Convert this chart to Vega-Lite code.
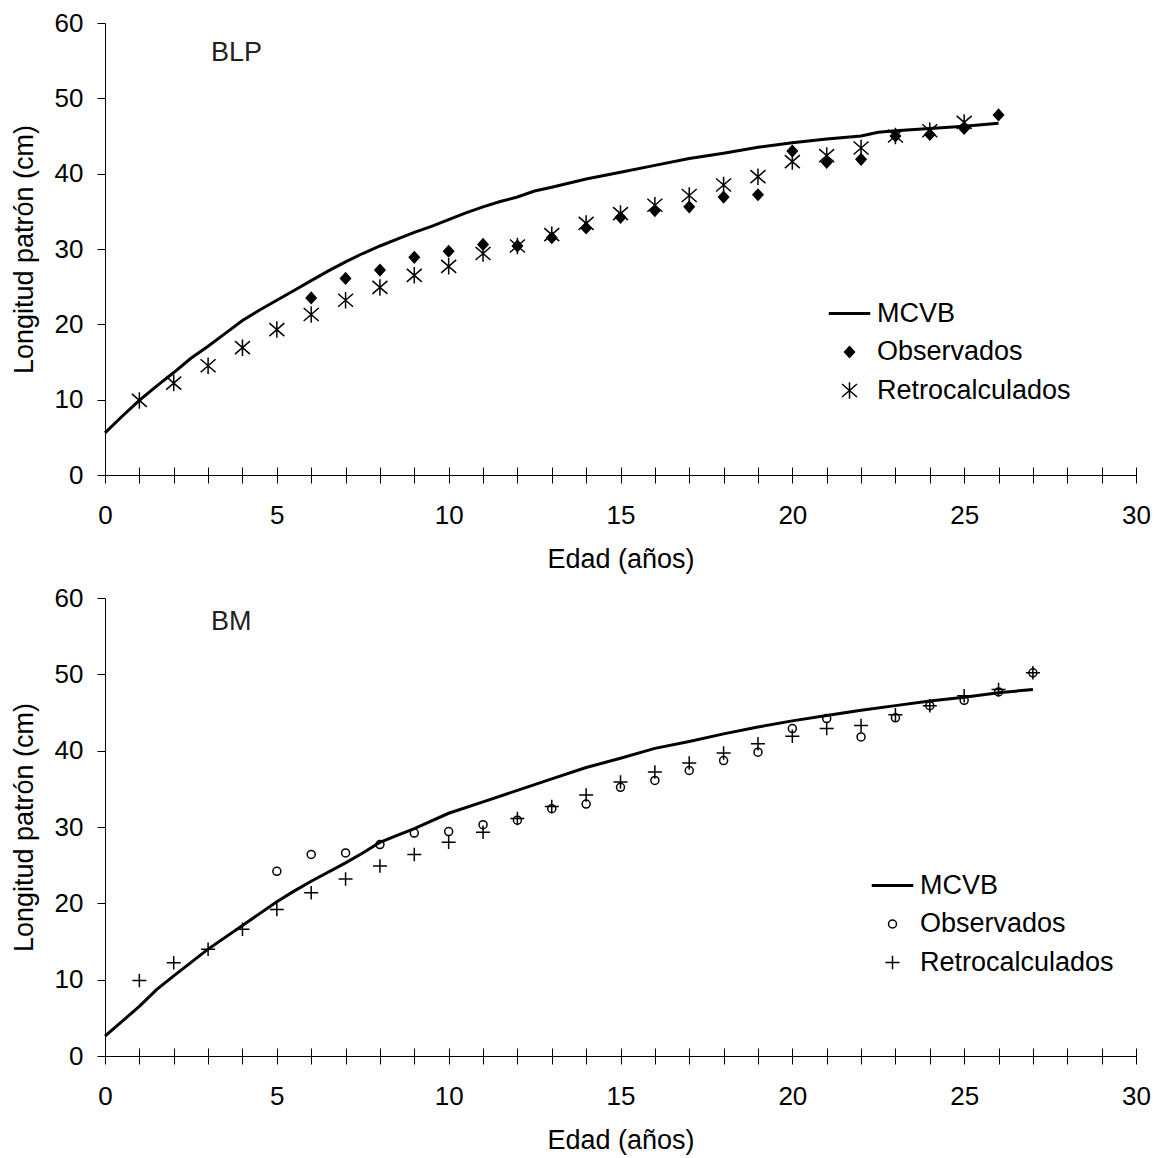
{
  "$schema": "https://vega.github.io/schema/vega-lite/v6.json",
  "padding": {"left": 10, "top": 10, "right": 5, "bottom": 5},
  "spacing": 13,
  "resolve": {"scale": {"shape": "independent", "fill": "independent"}, "legend": {"shape": "independent", "fill": "independent"}},
  "config": {
    "view": {"stroke": null},
    "font": "Liberation Sans",
    "axis": {"grid": false, "domainColor": "black", "tickColor": "black", "labelColor": "black", "titleColor": "black", "labelFontSize": 26, "titleFontSize": 27, "titleFontWeight": "normal", "labelFont": "Liberation Sans", "titleFont": "Liberation Sans"},
    "legend": {"labelFontSize": 27, "labelFont": "Liberation Sans", "labelColor": "black", "padding": 0, "rowPadding": 10.5, "labelOffset": 14, "labelLimit": 0},
    "title": {"fontSize": 27, "fontWeight": "normal", "font": "Liberation Sans", "color": "#222222", "anchor": "start", "frame": "group"}
  },
  "datasets": {
    "blp": [
      {"edad": 0, "longitud": 5.6, "serie": "MCVB"},
      {"edad": 0.5, "longitud": 7.8, "serie": "MCVB"},
      {"edad": 1, "longitud": 9.9, "serie": "MCVB"},
      {"edad": 1.5, "longitud": 11.8, "serie": "MCVB"},
      {"edad": 2, "longitud": 13.6, "serie": "MCVB"},
      {"edad": 2.5, "longitud": 15.5, "serie": "MCVB"},
      {"edad": 3, "longitud": 17.1, "serie": "MCVB"},
      {"edad": 3.5, "longitud": 18.8, "serie": "MCVB"},
      {"edad": 4, "longitud": 20.5, "serie": "MCVB"},
      {"edad": 4.5, "longitud": 21.9, "serie": "MCVB"},
      {"edad": 5, "longitud": 23.2, "serie": "MCVB"},
      {"edad": 5.5, "longitud": 24.5, "serie": "MCVB"},
      {"edad": 6, "longitud": 25.8, "serie": "MCVB"},
      {"edad": 6.5, "longitud": 27.1, "serie": "MCVB"},
      {"edad": 7, "longitud": 28.3, "serie": "MCVB"},
      {"edad": 7.5, "longitud": 29.4, "serie": "MCVB"},
      {"edad": 8, "longitud": 30.4, "serie": "MCVB"},
      {"edad": 8.5, "longitud": 31.3, "serie": "MCVB"},
      {"edad": 9, "longitud": 32.2, "serie": "MCVB"},
      {"edad": 9.5, "longitud": 33.0, "serie": "MCVB"},
      {"edad": 10, "longitud": 33.9, "serie": "MCVB"},
      {"edad": 10.5, "longitud": 34.8, "serie": "MCVB"},
      {"edad": 11, "longitud": 35.6, "serie": "MCVB"},
      {"edad": 11.5, "longitud": 36.3, "serie": "MCVB"},
      {"edad": 12, "longitud": 36.9, "serie": "MCVB"},
      {"edad": 12.5, "longitud": 37.7, "serie": "MCVB"},
      {"edad": 13, "longitud": 38.2, "serie": "MCVB"},
      {"edad": 14, "longitud": 39.3, "serie": "MCVB"},
      {"edad": 15, "longitud": 40.2, "serie": "MCVB"},
      {"edad": 16, "longitud": 41.1, "serie": "MCVB"},
      {"edad": 17, "longitud": 42.0, "serie": "MCVB"},
      {"edad": 18, "longitud": 42.7, "serie": "MCVB"},
      {"edad": 19, "longitud": 43.5, "serie": "MCVB"},
      {"edad": 20, "longitud": 44.1, "serie": "MCVB"},
      {"edad": 21, "longitud": 44.6, "serie": "MCVB"},
      {"edad": 22, "longitud": 45.0, "serie": "MCVB"},
      {"edad": 22.5, "longitud": 45.5, "serie": "MCVB"},
      {"edad": 23, "longitud": 45.7, "serie": "MCVB"},
      {"edad": 24, "longitud": 46.0, "serie": "MCVB"},
      {"edad": 25, "longitud": 46.3, "serie": "MCVB"},
      {"edad": 26, "longitud": 46.7, "serie": "MCVB"},
      {"edad": 6, "longitud": 23.5, "serie": "Observados"},
      {"edad": 7, "longitud": 26.1, "serie": "Observados"},
      {"edad": 8, "longitud": 27.2, "serie": "Observados"},
      {"edad": 9, "longitud": 28.9, "serie": "Observados"},
      {"edad": 10, "longitud": 29.7, "serie": "Observados"},
      {"edad": 11, "longitud": 30.6, "serie": "Observados"},
      {"edad": 12, "longitud": 30.4, "serie": "Observados"},
      {"edad": 13, "longitud": 31.5, "serie": "Observados"},
      {"edad": 14, "longitud": 32.8, "serie": "Observados"},
      {"edad": 15, "longitud": 34.2, "serie": "Observados"},
      {"edad": 16, "longitud": 35.1, "serie": "Observados"},
      {"edad": 17, "longitud": 35.6, "serie": "Observados"},
      {"edad": 18, "longitud": 36.9, "serie": "Observados"},
      {"edad": 19, "longitud": 37.2, "serie": "Observados"},
      {"edad": 20, "longitud": 43.0, "serie": "Observados"},
      {"edad": 21, "longitud": 41.5, "serie": "Observados"},
      {"edad": 22, "longitud": 41.9, "serie": "Observados"},
      {"edad": 23, "longitud": 45.0, "serie": "Observados"},
      {"edad": 24, "longitud": 45.2, "serie": "Observados"},
      {"edad": 25, "longitud": 46.0, "serie": "Observados"},
      {"edad": 26, "longitud": 47.8, "serie": "Observados"},
      {"edad": 1, "longitud": 9.9, "serie": "Retrocalculados"},
      {"edad": 2, "longitud": 12.2, "serie": "Retrocalculados"},
      {"edad": 3, "longitud": 14.5, "serie": "Retrocalculados"},
      {"edad": 4, "longitud": 16.9, "serie": "Retrocalculados"},
      {"edad": 5, "longitud": 19.3, "serie": "Retrocalculados"},
      {"edad": 6, "longitud": 21.3, "serie": "Retrocalculados"},
      {"edad": 7, "longitud": 23.2, "serie": "Retrocalculados"},
      {"edad": 8, "longitud": 24.9, "serie": "Retrocalculados"},
      {"edad": 9, "longitud": 26.5, "serie": "Retrocalculados"},
      {"edad": 10, "longitud": 27.7, "serie": "Retrocalculados"},
      {"edad": 11, "longitud": 29.4, "serie": "Retrocalculados"},
      {"edad": 12, "longitud": 30.4, "serie": "Retrocalculados"},
      {"edad": 13, "longitud": 31.9, "serie": "Retrocalculados"},
      {"edad": 14, "longitud": 33.4, "serie": "Retrocalculados"},
      {"edad": 15, "longitud": 34.7, "serie": "Retrocalculados"},
      {"edad": 16, "longitud": 35.8, "serie": "Retrocalculados"},
      {"edad": 17, "longitud": 37.1, "serie": "Retrocalculados"},
      {"edad": 18, "longitud": 38.5, "serie": "Retrocalculados"},
      {"edad": 19, "longitud": 39.6, "serie": "Retrocalculados"},
      {"edad": 20, "longitud": 41.6, "serie": "Retrocalculados"},
      {"edad": 21, "longitud": 42.4, "serie": "Retrocalculados"},
      {"edad": 22, "longitud": 43.4, "serie": "Retrocalculados"},
      {"edad": 23, "longitud": 45.0, "serie": "Retrocalculados"},
      {"edad": 24, "longitud": 45.7, "serie": "Retrocalculados"},
      {"edad": 25, "longitud": 46.8, "serie": "Retrocalculados"}
    ],
    "bm": [
      {"edad": 0, "longitud": 2.6, "serie": "MCVB"},
      {"edad": 1, "longitud": 6.5, "serie": "MCVB"},
      {"edad": 1.5, "longitud": 8.7, "serie": "MCVB"},
      {"edad": 2, "longitud": 10.5, "serie": "MCVB"},
      {"edad": 3, "longitud": 14.0, "serie": "MCVB"},
      {"edad": 4, "longitud": 17.1, "serie": "MCVB"},
      {"edad": 5, "longitud": 20.2, "serie": "MCVB"},
      {"edad": 5.5, "longitud": 21.6, "serie": "MCVB"},
      {"edad": 6, "longitud": 22.9, "serie": "MCVB"},
      {"edad": 7, "longitud": 25.3, "serie": "MCVB"},
      {"edad": 7.5, "longitud": 26.6, "serie": "MCVB"},
      {"edad": 8, "longitud": 28.0, "serie": "MCVB"},
      {"edad": 8.5, "longitud": 28.9, "serie": "MCVB"},
      {"edad": 9, "longitud": 29.8, "serie": "MCVB"},
      {"edad": 10, "longitud": 31.8, "serie": "MCVB"},
      {"edad": 11, "longitud": 33.3, "serie": "MCVB"},
      {"edad": 12, "longitud": 34.8, "serie": "MCVB"},
      {"edad": 13, "longitud": 36.3, "serie": "MCVB"},
      {"edad": 14, "longitud": 37.8, "serie": "MCVB"},
      {"edad": 15, "longitud": 39.0, "serie": "MCVB"},
      {"edad": 16, "longitud": 40.3, "serie": "MCVB"},
      {"edad": 17, "longitud": 41.2, "serie": "MCVB"},
      {"edad": 18, "longitud": 42.2, "serie": "MCVB"},
      {"edad": 19, "longitud": 43.1, "serie": "MCVB"},
      {"edad": 20, "longitud": 43.9, "serie": "MCVB"},
      {"edad": 21, "longitud": 44.6, "serie": "MCVB"},
      {"edad": 22, "longitud": 45.3, "serie": "MCVB"},
      {"edad": 23, "longitud": 45.9, "serie": "MCVB"},
      {"edad": 24, "longitud": 46.5, "serie": "MCVB"},
      {"edad": 25, "longitud": 47.0, "serie": "MCVB"},
      {"edad": 26, "longitud": 47.6, "serie": "MCVB"},
      {"edad": 27, "longitud": 48.0, "serie": "MCVB"},
      {"edad": 5, "longitud": 24.2, "serie": "Observados"},
      {"edad": 6, "longitud": 26.4, "serie": "Observados"},
      {"edad": 7, "longitud": 26.6, "serie": "Observados"},
      {"edad": 8, "longitud": 27.7, "serie": "Observados"},
      {"edad": 9, "longitud": 29.2, "serie": "Observados"},
      {"edad": 10, "longitud": 29.4, "serie": "Observados"},
      {"edad": 11, "longitud": 30.3, "serie": "Observados"},
      {"edad": 12, "longitud": 30.9, "serie": "Observados"},
      {"edad": 13, "longitud": 32.4, "serie": "Observados"},
      {"edad": 14, "longitud": 33.0, "serie": "Observados"},
      {"edad": 15, "longitud": 35.2, "serie": "Observados"},
      {"edad": 16, "longitud": 36.1, "serie": "Observados"},
      {"edad": 17, "longitud": 37.4, "serie": "Observados"},
      {"edad": 18, "longitud": 38.7, "serie": "Observados"},
      {"edad": 19, "longitud": 39.8, "serie": "Observados"},
      {"edad": 20, "longitud": 42.9, "serie": "Observados"},
      {"edad": 21, "longitud": 44.2, "serie": "Observados"},
      {"edad": 22, "longitud": 41.8, "serie": "Observados"},
      {"edad": 23, "longitud": 44.3, "serie": "Observados"},
      {"edad": 24, "longitud": 45.9, "serie": "Observados"},
      {"edad": 25, "longitud": 46.6, "serie": "Observados"},
      {"edad": 26, "longitud": 47.7, "serie": "Observados"},
      {"edad": 27, "longitud": 50.2, "serie": "Observados"},
      {"edad": 1, "longitud": 9.9, "serie": "Retrocalculados"},
      {"edad": 2, "longitud": 12.2, "serie": "Retrocalculados"},
      {"edad": 3, "longitud": 14.0, "serie": "Retrocalculados"},
      {"edad": 4, "longitud": 16.6, "serie": "Retrocalculados"},
      {"edad": 5, "longitud": 19.2, "serie": "Retrocalculados"},
      {"edad": 6, "longitud": 21.4, "serie": "Retrocalculados"},
      {"edad": 7, "longitud": 23.2, "serie": "Retrocalculados"},
      {"edad": 8, "longitud": 24.9, "serie": "Retrocalculados"},
      {"edad": 9, "longitud": 26.4, "serie": "Retrocalculados"},
      {"edad": 10, "longitud": 28.0, "serie": "Retrocalculados"},
      {"edad": 11, "longitud": 29.3, "serie": "Retrocalculados"},
      {"edad": 12, "longitud": 31.1, "serie": "Retrocalculados"},
      {"edad": 13, "longitud": 32.7, "serie": "Retrocalculados"},
      {"edad": 14, "longitud": 34.2, "serie": "Retrocalculados"},
      {"edad": 15, "longitud": 35.9, "serie": "Retrocalculados"},
      {"edad": 16, "longitud": 37.2, "serie": "Retrocalculados"},
      {"edad": 17, "longitud": 38.4, "serie": "Retrocalculados"},
      {"edad": 18, "longitud": 39.7, "serie": "Retrocalculados"},
      {"edad": 19, "longitud": 40.9, "serie": "Retrocalculados"},
      {"edad": 20, "longitud": 41.9, "serie": "Retrocalculados"},
      {"edad": 21, "longitud": 42.9, "serie": "Retrocalculados"},
      {"edad": 22, "longitud": 43.3, "serie": "Retrocalculados"},
      {"edad": 23, "longitud": 44.7, "serie": "Retrocalculados"},
      {"edad": 24, "longitud": 45.9, "serie": "Retrocalculados"},
      {"edad": 25, "longitud": 47.2, "serie": "Retrocalculados"},
      {"edad": 26, "longitud": 48.0, "serie": "Retrocalculados"},
      {"edad": 27, "longitud": 50.2, "serie": "Retrocalculados"}
    ]
  },
  "vconcat": [
    {
      "width": 1031,
      "height": 452,
      "data": {"name": "blp"},
      "title": {"text": "BLP", "dx": 106, "offset": -78, "baseline": "alphabetic"},
      "resolve": {"axis": {"x": "independent"}},
      "layer": [
        {
          "transform": [{"filter": "datum.serie === 'MCVB'"}],
          "mark": {"type": "line", "color": "black", "strokeWidth": 3},
          "encoding": {
            "x": {"field": "edad", "type": "quantitative", "scale": {"domain": [0, 30], "nice": false},
              "axis": {"title": "Edad (años)", "orient": "bottom", "values": [0,1,2,3,4,5,6,7,8,9,10,11,12,13,14,15,16,17,18,19,20,21,22,23,24,25,26,27,28,29,30], "labelExpr": "datum.value % 5 === 0 ? datum.label : ''", "tickSize": 8, "labelPadding": 19, "titlePadding": 18, "labelFlush": false, "labelOverlap": false}},
            "y": {"field": "longitud", "type": "quantitative", "scale": {"domain": [0, 60], "nice": false},
              "axis": {"title": "Longitud patrón (cm)", "values": [0,10,20,30,40,50,60], "tickSize": 8, "labelPadding": 14, "titlePadding": 16}}
          }
        },
        {
          "transform": [{"filter": "datum.serie !== 'MCVB'"}],
          "mark": {"type": "point", "stroke": "black", "strokeWidth": 1.5, "size": 100, "opacity": 1},
          "encoding": {
            "x": {"field": "edad", "type": "quantitative",
              "axis": {"title": null, "orient": "bottom", "values": [0,1,2,3,4,5,6,7,8,9,10,11,12,13,14,15,16,17,18,19,20,21,22,23,24,25,26,27,28,29,30], "labels": false, "domain": false, "tickSize": -8}},
            "y": {"field": "longitud", "type": "quantitative", "title": "Longitud patrón (cm)"},
            "shape": {"field": "serie", "type": "nominal",
              "scale": {"domain": ["MCVB", "Observados", "Retrocalculados"], "range": ["M-4,-0.16H4V0.16H-4Z", "M-1,0L0,-1.1L1,0L0,1.1Z", "M-1.5,-1.3L1.5,1.3M-1.5,1.3L1.5,-1.3M0,-1.65L0,1.65"]},
              "legend": {"title": null, "orient": "none", "legendX": 731, "legendY": 277,
                "encode": {"symbols": {"update": {"stroke": {"value": "black"}, "strokeWidth": {"value": 1.5}}}}}},
            "fill": {"field": "serie", "type": "nominal",
              "scale": {"domain": ["MCVB", "Observados", "Retrocalculados"], "range": ["black", "black", "transparent"]},
              "legend": {"title": null, "orient": "none", "legendX": 731, "legendY": 277,
                "encode": {"symbols": {"update": {"stroke": {"value": "black"}, "strokeWidth": {"value": 1.5}}}}}}
          }
        }
      ]
    },
    {
      "width": 1031,
      "height": 458,
      "data": {"name": "bm"},
      "title": {"text": "BM", "dx": 106, "offset": -72, "baseline": "alphabetic"},
      "resolve": {"axis": {"x": "independent"}},
      "layer": [
        {
          "transform": [{"filter": "datum.serie === 'MCVB'"}],
          "mark": {"type": "line", "color": "black", "strokeWidth": 3},
          "encoding": {
            "x": {"field": "edad", "type": "quantitative", "scale": {"domain": [0, 30], "nice": false},
              "axis": {"title": "Edad (años)", "orient": "bottom", "values": [0,1,2,3,4,5,6,7,8,9,10,11,12,13,14,15,16,17,18,19,20,21,22,23,24,25,26,27,28,29,30], "labelExpr": "datum.value % 5 === 0 ? datum.label : ''", "tickSize": 8, "labelPadding": 19, "titlePadding": 18, "labelFlush": false, "labelOverlap": false}},
            "y": {"field": "longitud", "type": "quantitative", "scale": {"domain": [0, 60], "nice": false},
              "axis": {"title": "Longitud patrón (cm)", "values": [0,10,20,30,40,50,60], "tickSize": 8, "labelPadding": 14, "titlePadding": 16}}
          }
        },
        {
          "transform": [{"filter": "datum.serie !== 'MCVB'"}],
          "mark": {"type": "point", "stroke": "black", "strokeWidth": 1.5, "size": 100, "opacity": 1},
          "encoding": {
            "x": {"field": "edad", "type": "quantitative",
              "axis": {"title": null, "orient": "bottom", "values": [0,1,2,3,4,5,6,7,8,9,10,11,12,13,14,15,16,17,18,19,20,21,22,23,24,25,26,27,28,29,30], "labels": false, "domain": false, "tickSize": -8}},
            "y": {"field": "longitud", "type": "quantitative", "title": "Longitud patrón (cm)"},
            "shape": {"field": "serie", "type": "nominal",
              "scale": {"domain": ["MCVB", "Observados", "Retrocalculados"], "range": ["M-4,-0.16H4V0.16H-4Z", "M0.8,0A0.8,0.8,0,1,1,-0.8,0A0.8,0.8,0,1,1,0.8,0Z", "M-1.4,0H1.4M0,-1.35V1.35"]},
              "legend": {"title": null, "orient": "none", "legendX": 774, "legendY": 274,
                "encode": {"symbols": {"update": {"stroke": {"value": "black"}, "strokeWidth": {"value": 1.5}}}}}},
            "fill": {"field": "serie", "type": "nominal",
              "scale": {"domain": ["MCVB", "Observados", "Retrocalculados"], "range": ["black", "transparent", "transparent"]},
              "legend": {"title": null, "orient": "none", "legendX": 774, "legendY": 274,
                "encode": {"symbols": {"update": {"stroke": {"value": "black"}, "strokeWidth": {"value": 1.5}}}}}}
          }
        }
      ]
    }
  ]
}
